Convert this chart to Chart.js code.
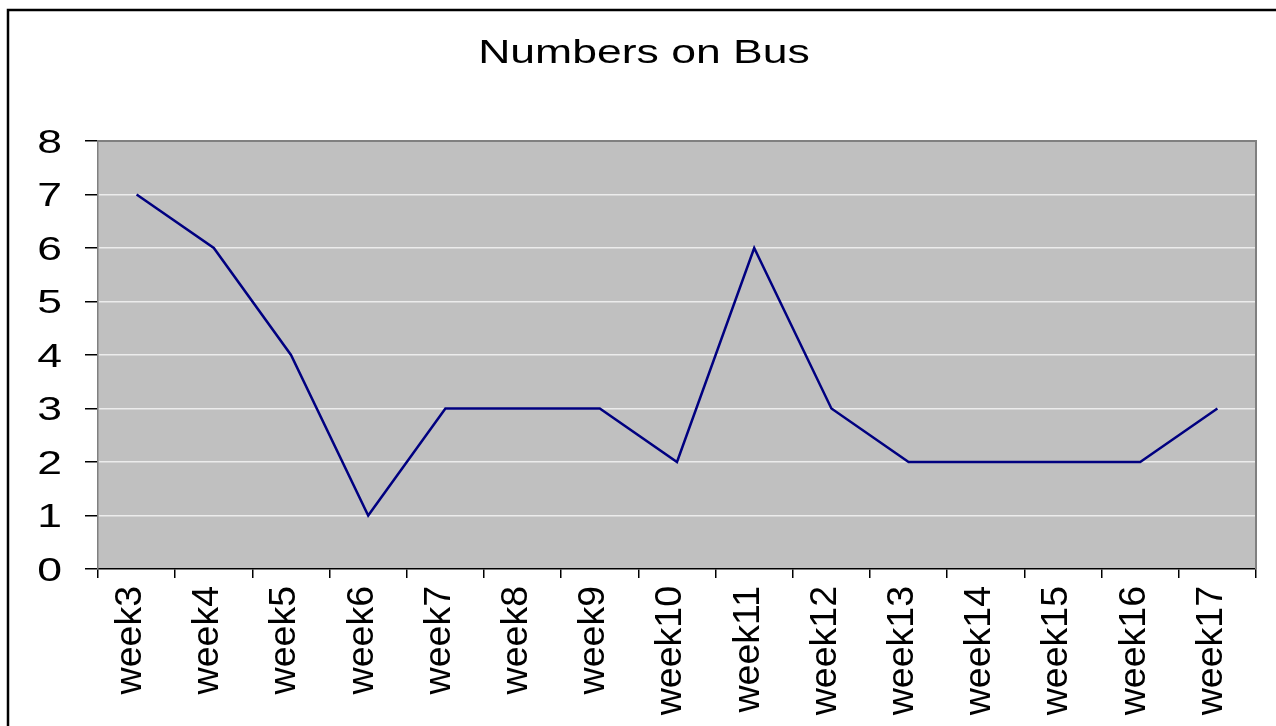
<!DOCTYPE html>
<html>
<head>
<meta charset="utf-8">
<script src="https://cdn.jsdelivr.net/npm/chart.js@4/dist/chart.umd.min.js"></script>
<style>
    html, body { margin: 0; padding: 0; background: #fff; }
    #wrap { width: 1276px; height: 726px; }
</style>
</head>
<body>
<div id="wrap"><canvas id="busChart" width="1276" height="726"></canvas></div>
<script>
const chartTitle = 'Numbers on Bus';
const weeks = ['week3', 'week4', 'week5', 'week6', 'week7', 'week8', 'week9', 'week10',
               'week11', 'week12', 'week13', 'week14', 'week15', 'week16', 'week17'];
const riders = [7, 6, 4, 1, 3, 3, 3, 2, 6, 3, 2, 2, 2, 2, 3];
const yTicks = [0, 1, 2, 3, 4, 5, 6, 7, 8];

(function() {
    // the source picture is stretched sideways, so the title and the y labels are too
    const stretch = 1.37;
    const fontFamily = "'Liberation Sans', Arial, sans-serif";

    const drawWide = (ctx, text, x, y, align, size) => {
        ctx.save();
        ctx.translate(x, y);
        ctx.scale(stretch, 1);
        ctx.font = size + 'px ' + fontFamily;
        ctx.fillStyle = '#000';
        ctx.textAlign = align;
        ctx.textBaseline = 'alphabetic';
        ctx.fillText(text, 0, 0);
        ctx.restore();
    };

    const framePlugin = {
        id: 'frame',
        beforeDraw(chart) {
            const ctx = chart.ctx;
            const a = chart.chartArea;
            ctx.save();
            ctx.fillStyle = '#fff';
            ctx.fillRect(0, 0, chart.width, chart.height);
            ctx.strokeStyle = '#000';
            ctx.lineWidth = 2.5;
            ctx.strokeRect(8, 10, chart.width + 40, chart.height + 40);
            ctx.fillStyle = '#c0c0c0';
            ctx.fillRect(a.left, a.top, a.right - a.left, a.bottom - a.top);
            ctx.restore();
        },
        beforeDatasetsDraw(chart) {
            const ctx = chart.ctx;
            const a = chart.chartArea;
            ctx.save();
            ctx.strokeStyle = '#808080';
            ctx.lineWidth = 2;
            ctx.beginPath();
            ctx.moveTo(a.left, a.top);
            ctx.lineTo(a.right, a.top);
            ctx.lineTo(a.right, a.bottom);
            ctx.stroke();
            ctx.restore();
        },
        afterDraw(chart) {
            const ctx = chart.ctx;
            const yScale = chart.scales.y;
            drawWide(ctx, chartTitle, 644, 63, 'center', 32.5);
            yScale.ticks.forEach(t => {
                const py = yScale.getPixelForValue(t.value);
                drawWide(ctx, String(t.value), 62, py + 11.5, 'right', 32.5);
            });
        }
    };

    const ctx = document.getElementById('busChart').getContext('2d');

    new Chart(ctx, {
        type: 'line',
        data: {
            labels: weeks,
            datasets: [{
                label: chartTitle,
                data: riders,
                borderColor: '#000080',
                borderWidth: 2.5,
                pointRadius: 0,
                tension: 0,
                fill: false
            }]
        },
        plugins: [framePlugin],
        options: {
            responsive: false,
            animation: false,
            layout: {
                padding: { top: 141, right: 20, bottom: 0, left: 0 }
            },
            plugins: {
                legend: { display: false },
                title: { display: false },
                tooltip: { enabled: false }
            },
            scales: {
                x: {
                    offset: true,
                    afterFit: scale => { scale.height = 157; },
                    grid: {
                        offset: true,
                        drawOnChartArea: false,
                        drawTicks: true,
                        tickLength: 9,
                        color: '#000',
                        lineWidth: 1.5
                    },
                    border: { color: '#000', width: 1.5 },
                    ticks: {
                        autoSkip: false,
                        minRotation: 90,
                        maxRotation: 90,
                        padding: 8,
                        labelOffset: -6,
                        color: '#000',
                        font: { family: fontFamily, size: 37.5 }
                    }
                },
                y: {
                    min: yTicks[0],
                    max: yTicks[yTicks.length - 1],
                    afterFit: scale => { scale.width = 98; },
                    grid: {
                        color: ctx => (ctx.tick && ctx.tick.value === 0) ? 'rgba(0,0,0,0)' : '#ececec',
                        tickColor: '#000',
                        tickLength: 13,
                        lineWidth: 1.5
                    },
                    border: { color: '#808080', width: 1.5 },
                    ticks: {
                        display: false,
                        stepSize: 1
                    }
                }
            }
        }
    });
})();
</script>
</body>
</html>
